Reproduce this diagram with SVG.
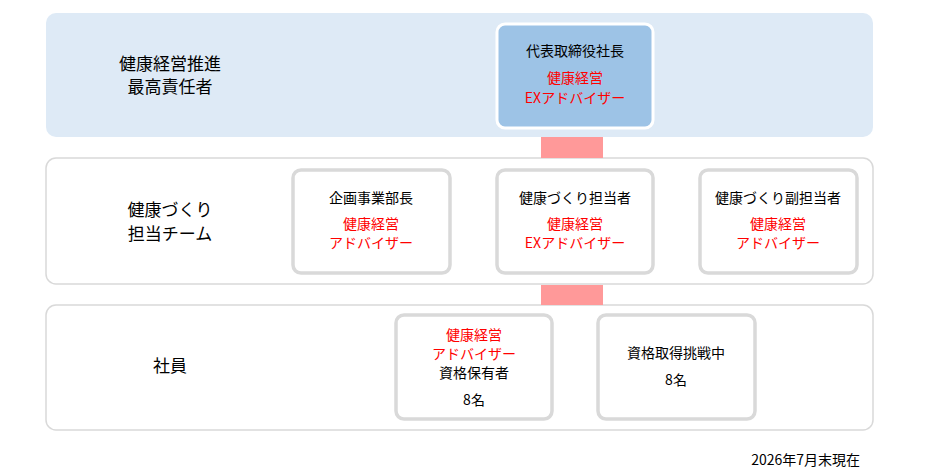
<svg xmlns="http://www.w3.org/2000/svg" width="937" height="476" viewBox="0 0 937 476">
<style>
text{font-family:"Noto Sans CJK JP","Noto Sans",sans-serif;text-anchor:middle;fill:#000}
.lbl{font-size:17px}
.t{font-size:14px}
.r{fill:#ff0000}
.band{fill:#fff;stroke:#d9d9d9;stroke-width:1.5}
.node{fill:#fff;stroke:#d9d9d9;stroke-width:3.5}
.conn{fill:#ff9999}
</style>
<rect x="46" y="13" width="827" height="124" rx="10" fill="#deeaf6"/>
<rect class="band" x="46" y="158" width="827" height="126" rx="10"/>
<rect class="band" x="46" y="305" width="827" height="125" rx="10"/>
<g id="connectors">
<rect class="conn" x="541" y="137" width="62" height="21"/>
<rect class="conn" x="541" y="285" width="62" height="20"/>
</g>
<g id="label-top"><text class="lbl" x="170" y="70">健康経営推進</text><text class="lbl" x="170" y="93">最高責任者</text></g>
<g id="label-mid"><text class="lbl" x="170" y="216">健康づくり</text><text class="lbl" x="170" y="240">担当チーム</text></g>
<g id="label-bot"><text class="lbl" x="170" y="372">社員</text></g>
<g id="ceo"><rect x="497" y="24" width="156" height="104" rx="8" fill="#9dc3e6" stroke="#fff" stroke-width="3"/>
<text class="t" x="575" y="56">代表取締役社長</text><text class="t r" x="575" y="83">健康経営</text><text class="t r" x="575" y="103">EXアドバイザー</text></g>
<g id="plan"><rect class="node" x="293" y="170" width="157" height="103" rx="8"/>
<text class="t" x="371" y="203">企画事業部長</text><text class="t r" x="371" y="229">健康経営</text><text class="t r" x="371" y="248">アドバイザー</text></g>
<g id="tanto"><rect class="node" x="497" y="170" width="156" height="103" rx="8"/>
<text class="t" x="575" y="203">健康づくり担当者</text><text class="t r" x="575" y="229">健康経営</text><text class="t r" x="575" y="248">EXアドバイザー</text></g>
<g id="fuku"><rect class="node" x="700" y="170" width="157" height="103" rx="8"/>
<text class="t" x="778" y="203">健康づくり副担当者</text><text class="t r" x="778" y="229">健康経営</text><text class="t r" x="778" y="248">アドバイザー</text></g>
<g id="holders"><rect class="node" x="396" y="315" width="156" height="104" rx="8"/>
<text class="t r" x="474" y="340">健康経営</text><text class="t r" x="474" y="359">アドバイザー</text><text class="t" x="474" y="378">資格保有者</text><text class="t" x="474" y="405">8名</text></g>
<g id="challenge"><rect class="node" x="598" y="315" width="157" height="104" rx="8"/>
<text class="t" x="676" y="358">資格取得挑戦中</text><text class="t" x="676" y="385">8名</text></g>
<text x="860" y="465" style="font-size:14px;text-anchor:end">2026年7月末現在</text>
</svg>
